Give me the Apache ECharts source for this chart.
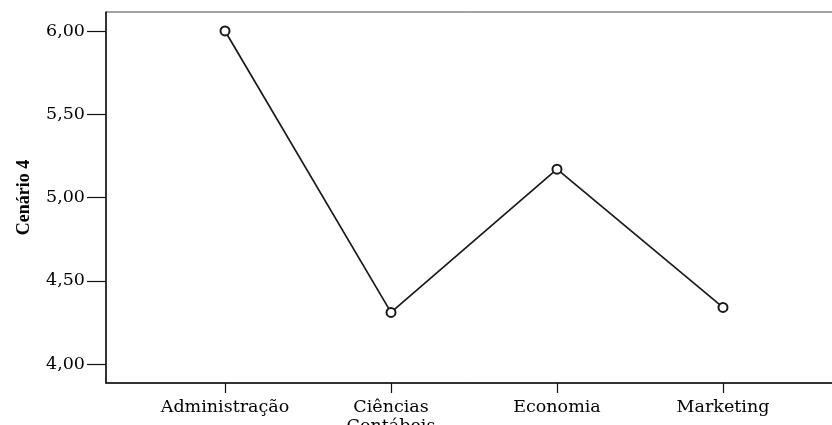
<!DOCTYPE html>
<html>
<head>
<meta charset="utf-8">
<script src="https://cdn.jsdelivr.net/npm/echarts@6/dist/echarts.min.js"></script>
<style>
html,body{margin:0;padding:0;background:#fff;}
#chart{width:832px;height:425px;}
</style>
</head>
<body>
<div id="chart"></div>
<script>
const categories = ['Administração', 'Ciências Contábeis', 'Economia', 'Marketing'];
const values = [6.00, 4.31, 5.17, 4.34];
const yTicks = [4.00, 4.50, 5.00, 5.50, 6.00];
const yName = 'Cenário 4';

const chart = echarts.init(document.getElementById('chart'));
const points = categories.map((c, i) => [i, values[i]]);
const xIdx = categories.map((c, i) => i);

chart.setOption({
  backgroundColor: '#fff',
  animation: false,
  grid: {
    left: 106, top: 12, right: -10, bottom: 42,
    outerBoundsMode: 'none', containLabel: false,
    show: true, borderColor: '#444', borderWidth: 1, backgroundColor: 'transparent'
  },
  xAxis: {
    type: 'value',
    min: -0.717, max: 3.717,
    splitLine: { show: false },
    axisLine: { show: true, onZero: false, lineStyle: { color: '#111', width: 1.5 } },
    axisTick: { show: true, customValues: xIdx, length: 10, lineStyle: { color: '#111', width: 1.2 } },
    axisLabel: {
      customValues: xIdx, margin: 15, color: '#000',
      fontFamily: 'DejaVu Serif', fontSize: 17.5, lineHeight: 19,
      formatter: v => categories[Math.round(v)].replace(' ', '\n')
    }
  },
  yAxis: {
    type: 'value',
    min: 3.886, max: 6.114,
    name: yName, nameLocation: 'middle', nameGap: 73, nameRotate: 90,
    nameTextStyle: { fontFamily: 'Liberation Serif', fontWeight: 'bold', fontSize: 18, color: '#000' },
    splitLine: { show: false },
    axisLine: { show: true, onZero: false, lineStyle: { color: '#111', width: 1.5 } },
    axisTick: { show: true, customValues: yTicks, length: 19, lineStyle: { color: '#111', width: 1.2 } },
    axisLabel: {
      customValues: yTicks, margin: 21, color: '#000',
      fontFamily: 'DejaVu Serif', fontSize: 17.5,
      formatter: v => v.toFixed(2).replace('.', ',')
    }
  },
  series: [{
    type: 'line',
    data: points,
    symbol: 'emptyCircle',
    symbolSize: 9,
    lineStyle: { color: '#1a1a1a', width: 1.7 },
    itemStyle: { color: '#1a1a1a', borderColor: '#1a1a1a', borderWidth: 1.5 }
  }]
});
</script>
</body>
</html>
